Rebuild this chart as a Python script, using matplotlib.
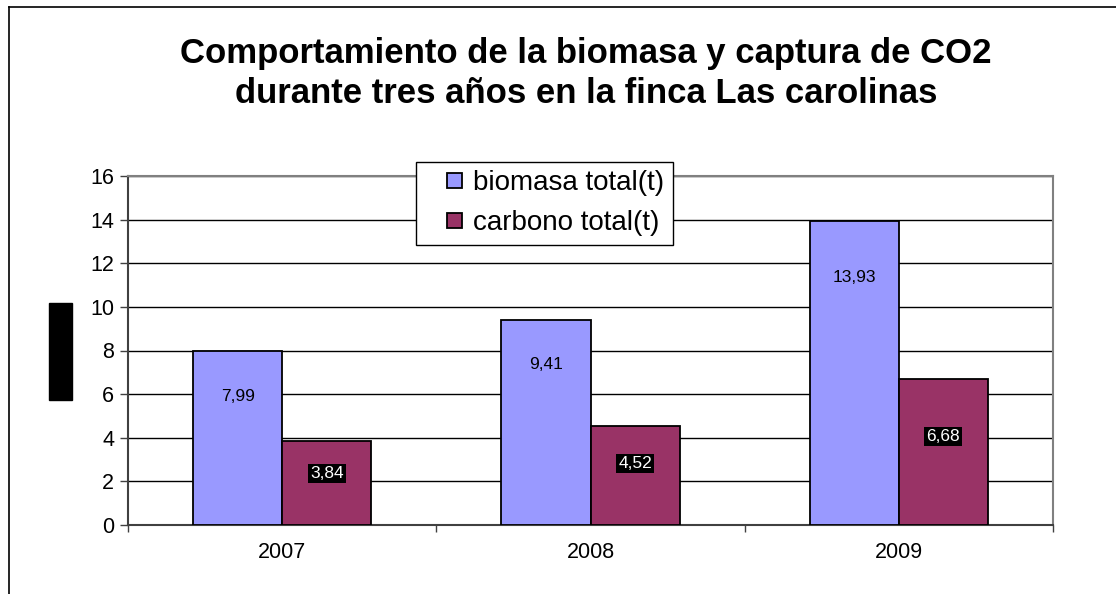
import matplotlib
matplotlib.use("Agg")
import matplotlib.pyplot as plt
import numpy as np
from matplotlib.patches import Rectangle, Patch
from matplotlib.lines import Line2D
from matplotlib.legend_handler import HandlerPatch

plt.rcParams['font.family'] = ['Liberation Sans', 'DejaVu Sans']

# ---- data ----
years = ["2007", "2008", "2009"]
biomasa = [7.99, 9.41, 13.93]
carbono = [3.84, 4.52, 6.68]
biomasa_labels = ["7,99", "9,41", "13,93"]
carbono_labels = ["3,84", "4,52", "6,68"]
series_names = ["biomasa total(t)", "carbono total(t)"]
yticks = [0, 2, 4, 6, 8, 10, 12, 14, 16]
title = "Comportamiento de la biomasa y captura de CO2\ndurante tres años en la finca Las carolinas"

# ---- layout / style ----
W, H = 1116, 594
c_bio = "#9999FF"
c_car = "#993366"
bar_w = 0.289
# label heights as fraction of bar value (Excel placement)
bio_lab_frac = [0.74, 0.78, 0.813]
car_lab_frac = [0.61, 0.62, 0.61]

fig = plt.figure(figsize=(W / 100, H / 100), dpi=100)
fig.patch.set_facecolor("white")

# outer chart frame (left and top edges visible)
fig.add_artist(Line2D([9 / W, 9 / W], [0, 1 - 7 / H], color="black", lw=1.2, transform=fig.transFigure))
fig.add_artist(Line2D([9 / W, 1], [1 - 7 / H, 1 - 7 / H], color="black", lw=1.2, transform=fig.transFigure))

ax = fig.add_axes([128 / W, (H - 525) / H, (1053 - 128) / W, (525 - 176) / H])
x = np.arange(len(years))

ax.bar(x - bar_w, biomasa, width=bar_w, align="edge", color=c_bio, edgecolor="black", lw=1.3, zorder=3)
ax.bar(x, carbono, width=bar_w, align="edge", color=c_car, edgecolor="black", lw=1.3, zorder=3)

for i in range(len(years)):
    ax.text(x[i] - bar_w / 2, biomasa[i] * bio_lab_frac[i], biomasa_labels[i], ha="center", va="center",
            fontsize=12.5, color="black", zorder=5)
    ax.text(x[i] + bar_w / 2, carbono[i] * car_lab_frac[i], carbono_labels[i], ha="center", va="center",
            fontsize=12.5, color="white", zorder=5,
            bbox=dict(boxstyle="square,pad=0.12", fc="black", ec="none"))

ax.set_xlim(-0.5, len(years) - 0.5)
ax.set_ylim(0, 16)
ax.set_yticks(yticks)
ax.set_yticklabels([str(v) for v in yticks], fontsize=15.5)
ax.set_xticks(x)
ax.set_xticklabels(years, fontsize=15.5)
ax.set_xticks(np.arange(len(years) + 1) - 0.5, minor=True)
ax.tick_params(axis="x", which="major", length=0, pad=12)
ax.tick_params(axis="x", which="minor", length=5, width=1, color="#404040", direction="out")
ax.tick_params(axis="y", length=6, width=1, color="#404040", direction="out", pad=4)

ax.yaxis.grid(True, color="black", lw=1)
ax.set_axisbelow(True)
for s in ["left", "bottom"]:
    ax.spines[s].set_color("#404040")
    ax.spines[s].set_linewidth(1.5)
for s in ["top", "right"]:
    ax.spines[s].set_color("#808080")
    ax.spines[s].set_linewidth(1.5)

SQ = 11.0  # legend square size in points


def square_right(legend, orig_handle, xdescent, ydescent, width, height, fontsize):
    return Rectangle((width - SQ - xdescent, (height - SQ) / 2 - ydescent), SQ, SQ)


handles = [Patch(facecolor=c, edgecolor="black", linewidth=1.3) for c in (c_bio, c_car)]
leg = ax.legend(handles, series_names, loc="upper left",
                bbox_to_anchor=((416 - 128) / (1053 - 128), 1 + (176 - 162) / (525 - 176)),
                fontsize=20, frameon=True, fancybox=False, edgecolor="black", framealpha=1,
                handlelength=1.36, handletextpad=0.4, borderpad=0.3, labelspacing=0.5, borderaxespad=0,
                handler_map={Patch: HandlerPatch(patch_func=square_right)})
leg.get_frame().set_linewidth(1)
leg.set_zorder(10)

fig.text(586 / W, 1 - 73.5 / H, title, ha="center", va="center", fontsize=25, fontweight="bold", linespacing=1.3)

# black block left of y axis
fig.add_artist(Rectangle((49 / W, (H - 400) / H), 23 / W, 97 / H, color="black", transform=fig.transFigure))

fig.savefig("out.png", dpi=100)
